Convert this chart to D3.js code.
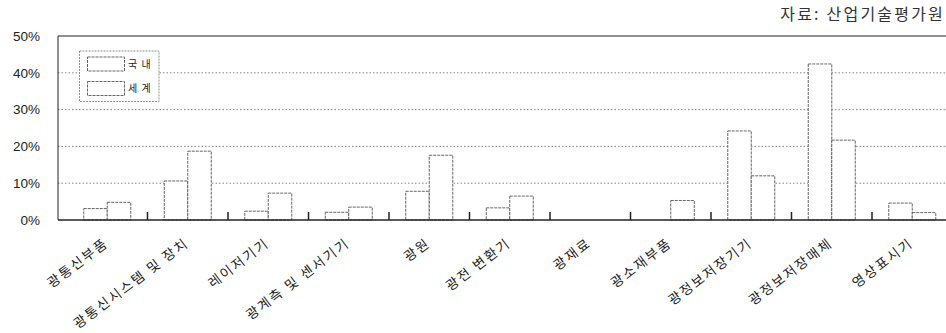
<!DOCTYPE html>
<html><head><meta charset="utf-8">
<script src="https://cdn.jsdelivr.net/npm/d3@7"></script>
<style>body{margin:0;background:#fff;}svg{display:block;font-family:"Noto Sans CJK KR","Noto Sans",sans-serif;}</style>
</head><body><svg id="c" width="946" height="333"></svg>
<script>
const categories = ["광통신부품","광통신시스템 및 장치","레이저기기","광계측 및 센서기기","광원","광전 변환기","광재료","광소재부품","광정보저장기기","광정보저장매체","영상표시기"];
const seriesNames = ["국 내","세 계"];
const domestic = [3.1,10.6,2.4,2.1,7.8,3.3,0,0,24.2,42.4,4.6];
const world = [4.8,18.7,7.3,3.5,17.6,6.5,0,5.3,12.0,21.7,2.0];
const yTicks = [0,10,20,30,40,50];

(function(){
const svg = d3.select("#c");
const mLeft = 58, mTop = 36, mBottom = 220, x0 = 67, x1 = 952.5;
const y = d3.scaleLinear().domain([0,50]).range([mBottom, mTop]);
const x = d3.scaleBand().domain(categories).range([x0, x1]);
const inner = d3.scaleBand().domain(seriesNames).range([0, 47]);
const ink = "#222";

// gridlines
svg.append("g").selectAll("line").data(yTicks.filter(d=>d>0&&d<50)).join("line")
  .attr("x1", mLeft).attr("x2", 946).attr("y1", d=>y(d)).attr("y2", d=>y(d))
  .attr("stroke","#666").attr("stroke-width",0.8).attr("stroke-dasharray","1.5,2");

// y labels
svg.append("g").selectAll("text").data(yTicks).join("text")
  .attr("x", 40).attr("y", d=>y(d)).attr("dy","0.35em").attr("text-anchor","end")
  .attr("font-size",13.5).attr("fill","#222").attr("font-family","Liberation Sans, Arial, sans-serif")
  .text(d=>d+"%");

// bars
const series = [domestic, world];
const g = svg.append("g");
categories.forEach((c,i)=>{
  series.forEach((s,j)=>{
    const v = s[i];
    if (v<=0) return;
    g.append("rect")
      .attr("x", x(c) + (x.bandwidth()-47)/2 + inner(seriesNames[j]))
      .attr("y", y(v)).attr("width", inner.bandwidth()).attr("height", y(0)-y(v))
      .attr("fill","#fff").attr("stroke","#555").attr("stroke-width",0.9).attr("stroke-dasharray","3,1");
  });
});

// frame
svg.append("line").attr("x1",mLeft).attr("x2",946).attr("y1",y(50)).attr("y2",y(50)).attr("stroke",ink).attr("stroke-width",1.2);
svg.append("line").attr("x1",mLeft).attr("x2",mLeft).attr("y1",y(50)).attr("y2",y(0)).attr("stroke",ink).attr("stroke-width",1);
svg.append("line").attr("x1",mLeft).attr("x2",946).attr("y1",y(0)).attr("y2",y(0)).attr("stroke",ink).attr("stroke-width",1.5);

// category ticks (between groups)
svg.append("g").selectAll("line").data(categories.slice(1)).join("line")
  .attr("x1", d=>x(d)).attr("x2", d=>x(d)).attr("y1", y(0)).attr("y2", y(0)-8)
  .attr("stroke",ink).attr("stroke-width",1.5);

// x labels
svg.append("g").selectAll("text").data(categories).join("text")
  .attr("transform", d=>`translate(${x(d)+x.bandwidth()/2+2},${y(0)+25}) rotate(-37)`)
  .attr("text-anchor","end").attr("font-size",13.5).attr("letter-spacing",2).attr("fill","#222")
  .text(d=>d);

// legend
const lg = svg.append("g");
lg.append("rect").attr("x",79.5).attr("y",51).attr("width",79.5).attr("height",50.5)
  .attr("fill","#fff").attr("stroke","#777").attr("stroke-width",0.8).attr("stroke-dasharray","2,1");
seriesNames.forEach((n,j)=>{
  const yy = 57 + j*24.5;
  lg.append("rect").attr("x",87.5).attr("y",yy).attr("width",37).attr("height",14)
    .attr("fill","#fff").attr("stroke","#555").attr("stroke-width",0.9).attr("stroke-dasharray","3,1");
  lg.append("text").attr("x",128).attr("y",yy+7).attr("dy","0.35em").attr("font-size",10).attr("letter-spacing",1).attr("fill","#222").text(n);
});

// source
svg.append("text").attr("x",945).attr("y",20).attr("text-anchor","end").attr("font-size",16).attr("letter-spacing",2.2).attr("fill","#333").text("자료: 산업기술평가원");
})();
</script></body></html>
